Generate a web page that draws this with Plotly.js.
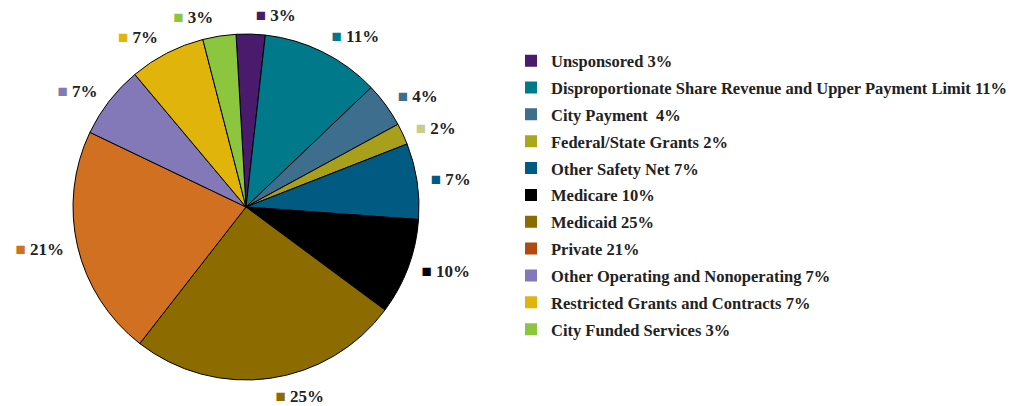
<!DOCTYPE html>
<html>
<head>
<meta charset="utf-8">
<script src="https://cdn.plot.ly/plotly-3.0.1.min.js"></script>
<style>html,body{margin:0;padding:0;background:#fff;}</style>
</head>
<body>
<div id="chart" style="width:1013px;height:406px;"></div>
<script>
// Legend labels (as printed)
const categories = [
  "Unsponsored 3%",
  "Disproportionate Share Revenue and Upper Payment Limit 11%",
  "City Payment  4%",
  "Federal/State Grants 2%",
  "Other Safety Net 7%",
  "Medicare 10%",
  "Medicaid 25%",
  "Private 21%",
  "Other Operating and Nonoperating 7%",
  "Restricted Grants and Contracts 7%",
  "City Funded Services 3%"
];
const shares = [2.7, 11.1, 4.2, 2.0, 7.1, 9.0, 25.4, 21.6, 6.8, 7.1, 3.1];
// Printed slice labels
const sliceLabels = ["3%", "11%", "4%", "2%", "7%", "10%", "25%", "21%", "7%", "7%", "3%"];
const sliceColors = ["#4a1a6c", "#007a8a", "#3e6e8e", "#a8a01a", "#005a82", "#000000",
                     "#8c6c00", "#d07020", "#8378b8", "#e0b40a", "#8cc63e"];
const labelSquareColors = ["#4a1a6c", "#007a8a", "#3e6e8e", "#c8cc8c", "#005a82", "#000000",
                           "#8c6c00", "#d07020", "#8378b8", "#e0b40a", "#8cc63e"];
const legendColors = ["#4a1a6c", "#007a8a", "#3e6e8e", "#a8a818", "#005a82", "#000000",
                      "#8c6c00", "#b04a10", "#8378b8", "#e0b40a", "#8cc63e"];

const SERIF = "Liberation Serif, Times New Roman, serif";
const texts = sliceLabels.map((t, i) =>
  '<span style="color:' + labelSquareColors[i] + '">■</span> ' + t);

// visible pie
const pie = {
  type: "pie",
  labels: categories,
  values: shares,
  textinfo: "none",
  sort: false,
  direction: "clockwise",
  rotation: -3.3,
  marker: {colors: sliceColors, line: {color: "#000", width: 1}},
  domain: {x: [73 / 1013, 419 / 1013], y: [26 / 406, 372 / 406]},
  hoverinfo: "label",
  showlegend: false
};

// transparent, slightly larger pie carrying the outside labels
const labelPie = {
  type: "pie",
  labels: categories,
  values: shares,
  text: texts,
  texttemplate: "%{text}",
  textposition: "outside",
  sort: false,
  direction: "clockwise",
  rotation: -3.3,
  marker: {colors: sliceColors.map(() => "rgba(0,0,0,0)"), line: {width: 0}},
  outsidetextfont: {family: SERIF, size: 17, color: "#222", weight: "bold"},
  domain: {x: [(246 - 182) / 1013, (246 + 182) / 1013], y: [(199 - 182) / 406, (199 + 182) / 406]},
  hoverinfo: "skip",
  showlegend: false
};

// legend entries
const legendTraces = categories.map((c, i) => ({
  type: "scatter",
  mode: "markers",
  x: [null], y: [null],
  name: c,
  legendgroup: "g" + i,
  marker: {symbol: "square", size: 12, color: legendColors[i], line: {width: 0}},
  hoverinfo: "skip",
  showlegend: true
}));

const layout = {
  width: 1013,
  height: 406,
  margin: {l: 0, r: 0, t: 0, b: 0},
  paper_bgcolor: "#fff",
  plot_bgcolor: "rgba(0,0,0,0)",
  xaxis: {visible: false},
  yaxis: {visible: false},
  showlegend: true,
  legend: {
    x: 1, xanchor: "right",
    y: 0.893, yanchor: "top",
    font: {family: SERIF, size: 16.5, color: "#222", weight: "bold"},
    bgcolor: "rgba(0,0,0,0)",
    traceorder: "grouped",
    tracegroupgap: 2.4
  }
};

Plotly.newPlot("chart", [pie, labelPie].concat(legendTraces), layout, {displayModeBar: false, staticPlot: true});
</script>
</body>
</html>
